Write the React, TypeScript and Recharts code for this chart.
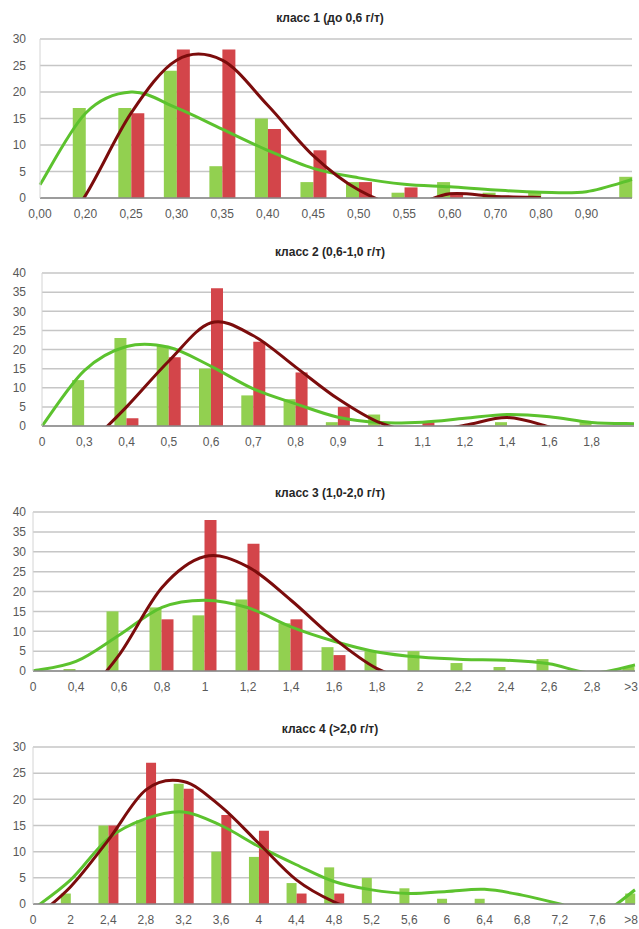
import { ComposedChart, Bar, Line, XAxis, YAxis, CartesianGrid } from 'recharts'

// класс 1
const cats1 = ['0,00', '0,20', '0,25', '0,30', '0,35', '0,40', '0,45', '0,50', '0,55', '0,60', '0,70', '0,80', '0,90', '']
const green1 = [0, 17, 17, 24, 6, 15, 3, 3, 1, 3, 1, 1, 0, 4]
const red1 = [0, 0, 16, 28, 28, 13, 9, 3, 2, 1, 0, 0, 0, 0]
const greenFit1 = [2.5, 16, 20, 17, 13, 9, 5.6, 3.8, 2.6, 2.1, 1.5, 1.1, 1.2, 3.5]
const redFit1 = [-12, 0.5, 16, 26, 26, 17.5, 8, 1.5, -1.5, 0.8, 0.3, 0.1, null, null]

// класс 2
const cats2 = ['0', '0,3', '0,4', '0,5', '0,6', '0,7', '0,8', '0,9', '1', '1,1', '1,2', '1,4', '1,6', '1,8', '']
const green2 = [0, 12, 23, 21, 15, 8, 7, 1, 3, 0, 0, 1, 0, 1, 0]
const red2 = [0, 0, 2, 18, 36, 22, 14, 5, 0, 1, 0, 0, 0, 0, 0]
const greenFit2 = [0, 14.5, 20.8, 20.6, 15.6, 9.7, 5.8, 2.3, 0.9, 1, 2, 3, 2.4, 0.9, 0.6]
const redFit2 = [null, -6, 5, 17, 27, 23.6, 15.4, 7.1, 0.8, -1.5, 0.2, 2.2, -0.2, null, null]

// класс 3
const cats3 = ['0', '0,4', '0,6', '0,8', '1', '1,2', '1,4', '1,6', '1,8', '2', '2,2', '2,4', '2,6', '2,8', '>3']
const green3 = [0, 0.5, 15, 16, 14, 18, 12, 6, 5, 5, 2, 1, 3, 0, 1]
const red3 = [0, 0, 0, 13, 38, 32, 13, 4, 0, 0, 0, 0, 0, 0, 0]
const greenFit3 = [0, 2.4, 9, 16, 17.8, 15.9, 11.1, 7.5, 4.8, 3.5, 2.9, 2.7, 1.8, -0.5, 1.5]
const redFit3 = [null, -9, 4, 21, 28.8, 26.2, 17.8, 8.2, 0.6, -3, null, null, null, null, null]

// класс 4
const cats4 = ['0', '2', '2,4', '2,8', '3,2', '3,6', '4', '4,4', '4,8', '5,2', '5,6', '6', '6,4', '6,8', '7,2', '7,6', '>8']
const green4 = [0, 2, 15, 16, 23, 10, 9, 4, 7, 5, 3, 1, 1, 0, 0, 0, 2]
const red4 = [0, 0, 15, 27, 22, 17, 14, 2, 2, 0, 0, 0, 0, 0, 0, 0, 0]
const greenFit4 = [-1, 4.6, 12.5, 16.3, 17.6, 15, 11, 7.5, 4.3, 2.7, 2, 2.4, 2.8, 1.7, 0, -2, 2.7]
const redFit4 = [-3, 3.3, 12.2, 21.8, 23.4, 18.6, 11.6, 4.6, 0.4, -2, null, null, null, null, null, null, null]

const GREEN_BAR = '#92d050'
const RED_BAR = '#d3454a'
const GREEN_LINE = '#5cc22e'
const RED_LINE = '#7b0c0c'
const TICK_COLOR = '#595959'

// Excel-like smoothing (Catmull-Rom through the points)
function excelSmooth(context: any) {
  let pts: number[][] = []
  return {
    areaStart() {},
    areaEnd() {},
    lineStart() {
      pts = []
    },
    lineEnd() {
      const n = pts.length
      if (!n) return
      context.moveTo(pts[0][0], pts[0][1])
      for (let i = 0; i < n - 1; i++) {
        const p0 = pts[Math.max(i - 1, 0)]
        const p1 = pts[i]
        const p2 = pts[i + 1]
        const p3 = pts[Math.min(i + 2, n - 1)]
        context.bezierCurveTo(
          p1[0] + (p2[0] - p0[0]) / 6,
          p1[1] + (p2[1] - p0[1]) / 6,
          p2[0] - (p3[0] - p1[0]) / 6,
          p2[1] - (p3[1] - p1[1]) / 6,
          p2[0],
          p2[1],
        )
      }
    },
    point(x: number, y: number) {
      pts.push([+x, +y])
    },
  }
}

// category label; the last one is pulled inside the right edge
const catTick = (cats: string[]) => (props: any) => {
  const { x, y, payload } = props
  const last = payload.value === cats.length - 1
  return (
    <text
      x={last ? 638 : x}
      y={y}
      dy="0.71em"
      textAnchor={last ? 'end' : 'middle'}
      fontSize={12}
      fill={TICK_COLOR}
    >
      {cats[payload.value] ?? ''}
    </text>
  )
}

interface PanelProps {
  title: string
  cats: string[]
  green: number[]
  red: number[]
  greenFit: (number | null)[]
  redFit: (number | null)[]
  yMax: number
  top: number
  height: number
  plotTop: number
  plotBottom: number
  plotLeft: number
  plotRight: number
  titleY: number
  barSize: number
}

function Panel(p: PanelProps) {
  const rows = p.cats.map((c, i) => ({
    i,
    cat: c,
    green: p.green[i],
    red: p.red[i],
    greenFit: p.greenFit[i],
    redFit: p.redFit[i],
  }))
  const yTicks: number[] = []
  for (let v = 0; v <= p.yMax; v += 5) yTicks.push(v)

  return (
    <div style={{ position: 'absolute', left: 0, top: p.top, width: 639, height: p.height }}>
      <div
        style={{
          position: 'absolute',
          left: 0,
          width: 660,
          top: p.titleY - p.top - 8,
          textAlign: 'center',
          fontSize: 12,
          fontWeight: 'bold',
          color: '#262626',
          lineHeight: '16px',
        }}
      >
        {p.title}
      </div>
      <ComposedChart
        width={639}
        height={p.height}
        data={rows}
        barGap={0}
        margin={{ top: p.plotTop - p.top, right: 639 - p.plotRight, bottom: 0, left: 0 }}
      >
        <CartesianGrid vertical={false} stroke="#c6c6c6" strokeWidth={1.5} />
        <XAxis
          type="number"
          dataKey="i"
          domain={[0, p.cats.length - 1]}
          ticks={p.cats.map((_, i) => i)}
          interval={0}
          tick={catTick(p.cats)}
          tickLine={false}
          tickSize={0}
          tickMargin={11}
          axisLine={{ stroke: '#8a8a8a', strokeWidth: 1.5 }}
          height={p.top + p.height - p.plotBottom}
        />
        <YAxis
          type="number"
          domain={[0, p.yMax]}
          ticks={yTicks}
          allowDataOverflow
          interval={0}
          tick={{ fontSize: 12, fill: TICK_COLOR }}
          tickLine={false}
          tickSize={0}
          tickMargin={p.plotLeft - 26}
          axisLine={{ stroke: '#d4d4d4' }}
          width={p.plotLeft}
        />
        <Bar dataKey="green" fill={GREEN_BAR} barSize={p.barSize} isAnimationActive={false} />
        <Bar dataKey="red" fill={RED_BAR} barSize={p.barSize} isAnimationActive={false} />
        <Line
          dataKey="greenFit"
          type={excelSmooth as any}
          stroke={GREEN_LINE}
          strokeWidth={3}
          dot={false}
          activeDot={false}
          isAnimationActive={false}
        />
        <Line
          dataKey="redFit"
          type={excelSmooth as any}
          stroke={RED_LINE}
          strokeWidth={3}
          dot={false}
          activeDot={false}
          isAnimationActive={false}
        />
      </ComposedChart>
    </div>
  )
}

export default function App() {
  return (
    <div
      style={{
        position: 'absolute',
        left: 0,
        top: 0,
        width: 639,
        height: 929,
        overflow: 'hidden',
        background: '#fff',
        fontFamily: '"Liberation Sans", Arial, sans-serif',
      }}
    >
      <Panel
        title="класс 1 (до 0,6 г/т)"
        cats={cats1}
        green={green1}
        red={red1}
        greenFit={greenFit1}
        redFit={redFit1}
        yMax={30}
        top={0}
        height={232}
        plotTop={39}
        plotBottom={198}
        plotLeft={40}
        plotRight={632}
        titleY={18}
        barSize={13}
      />
      <Panel
        title="класс 2 (0,6-1,0 г/т)"
        cats={cats2}
        green={green2}
        red={red2}
        greenFit={greenFit2}
        redFit={redFit2}
        yMax={40}
        top={232}
        height={234}
        plotTop={273}
        plotBottom={426}
        plotLeft={42}
        plotRight={634}
        titleY={252}
        barSize={12}
      />
      <Panel
        title="класс 3 (1,0-2,0 г/т)"
        cats={cats3}
        green={green3}
        red={red3}
        greenFit={greenFit3}
        redFit={redFit3}
        yMax={40}
        top={466}
        height={240}
        plotTop={512}
        plotBottom={671}
        plotLeft={33}
        plotRight={635}
        titleY={493}
        barSize={12}
      />
      <Panel
        title="класс 4 (>2,0 г/т)"
        cats={cats4}
        green={green4}
        red={red4}
        greenFit={greenFit4}
        redFit={redFit4}
        yMax={30}
        top={706}
        height={223}
        plotTop={747}
        plotBottom={904}
        plotLeft={33}
        plotRight={635}
        titleY={729}
        barSize={10}
      />
    </div>
  )
}
